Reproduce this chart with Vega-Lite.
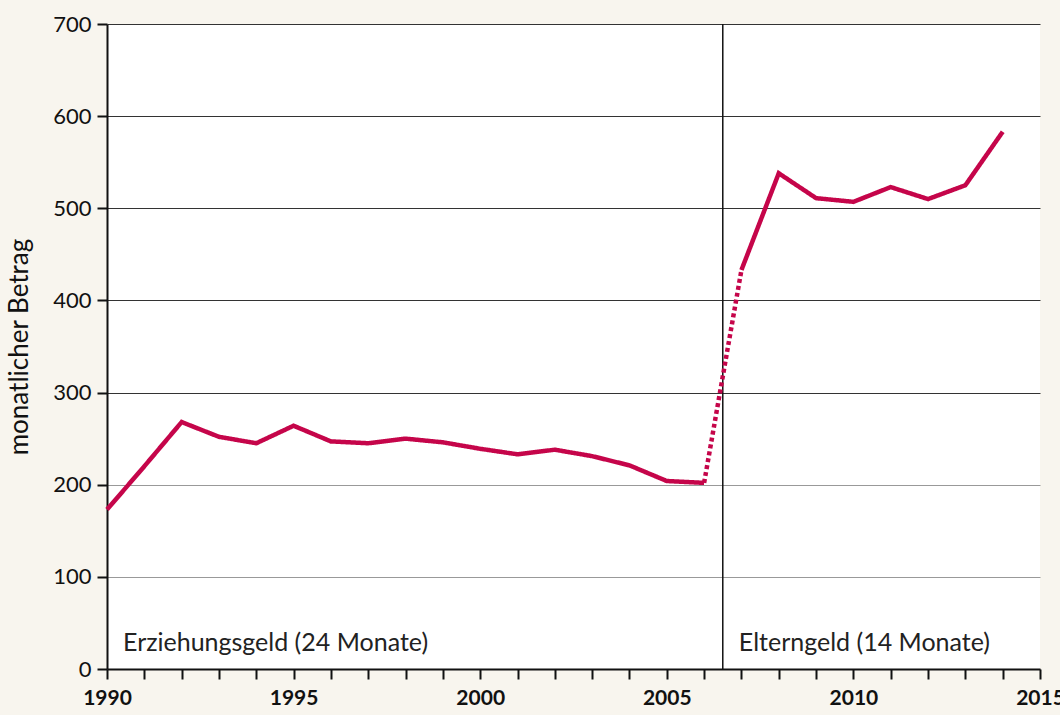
{
  "$schema": "https://vega.github.io/schema/vega-lite/v6.json",
  "width": 933,
  "height": 645,
  "autosize": {"type": "none"},
  "padding": {"left": 107, "top": 24, "right": 20, "bottom": 46},
  "background": "#f8f5ee",
  "config": {
    "view": {"fill": "white", "stroke": null},
    "font": "Lato",
    "axis": {"labelFont": "Lato", "titleFont": "Lato", "labelColor": "#111", "titleColor": "#111"}
  },
  "datasets": {
    "series": [
      {"year": 1990, "betrag": 173, "seg": "a"},
      {"year": 1991, "betrag": 220, "seg": "a"},
      {"year": 1992, "betrag": 268, "seg": "a"},
      {"year": 1993, "betrag": 252, "seg": "a"},
      {"year": 1994, "betrag": 245, "seg": "a"},
      {"year": 1995, "betrag": 264, "seg": "a"},
      {"year": 1996, "betrag": 247, "seg": "a"},
      {"year": 1997, "betrag": 245, "seg": "a"},
      {"year": 1998, "betrag": 250, "seg": "a"},
      {"year": 1999, "betrag": 246, "seg": "a"},
      {"year": 2000, "betrag": 239, "seg": "a"},
      {"year": 2001, "betrag": 233, "seg": "a"},
      {"year": 2002, "betrag": 238, "seg": "a"},
      {"year": 2003, "betrag": 231, "seg": "a"},
      {"year": 2004, "betrag": 221, "seg": "a"},
      {"year": 2005, "betrag": 204, "seg": "a"},
      {"year": 2006, "betrag": 202, "seg": "a"},
      {"year": 2006, "betrag": 202, "seg": "b"},
      {"year": 2007, "betrag": 433, "seg": "b"},
      {"year": 2007, "betrag": 433, "seg": "c"},
      {"year": 2008, "betrag": 538, "seg": "c"},
      {"year": 2009, "betrag": 511, "seg": "c"},
      {"year": 2010, "betrag": 507, "seg": "c"},
      {"year": 2011, "betrag": 523, "seg": "c"},
      {"year": 2012, "betrag": 510, "seg": "c"},
      {"year": 2013, "betrag": 525, "seg": "c"},
      {"year": 2014, "betrag": 583, "seg": "c"}
    ],
    "labels": [
      {"year": 1990.43, "betrag": 28, "text": "Erziehungsgeld (24 Monate)"},
      {"year": 2006.93, "betrag": 28, "text": "Elterngeld (14 Monate)"}
    ],
    "divider": [{"year": 2006.5}]
  },
  "layer": [
    {
      "data": {"name": "divider"},
      "mark": {"type": "rule", "color": "#111", "strokeWidth": 1.5},
      "encoding": {"x": {"field": "year", "type": "quantitative"}}
    },
    {
      "data": {"name": "series"},
      "mark": {"type": "line", "color": "#c5054a", "strokeWidth": 4.5},
      "encoding": {
        "x": {
          "field": "year",
          "type": "quantitative",
          "scale": {"domain": [1990, 2015], "nice": false, "zero": false},
          "axis": {
            "title": null,
            "values": [1990,1991,1992,1993,1994,1995,1996,1997,1998,1999,2000,2001,2002,2003,2004,2005,2006,2007,2008,2009,2010,2011,2012,2013,2014,2015],
            "tickCount": 40,
            "labelExpr": "datum.value % 5 === 0 ? datum.label : ''",
            "format": "d",
            "labelOverlap": false,
            "labelBound": false,
            "grid": false,
            "domainColor": "#111",
            "domainWidth": 2,
            "tickColor": "#111",
            "tickWidth": 2,
            "tickSize": 10,
            "labelFontSize": 21,
            "labelFontWeight": "bold",
            "labelPadding": 8,
            "labelFlush": false
          }
        },
        "y": {
          "field": "betrag",
          "type": "quantitative",
          "scale": {"domain": [0, 700], "nice": false},
          "axis": {
            "title": "monatlicher Betrag",
            "titleFontSize": 26,
            "titleFontWeight": "normal",
            "titlePadding": 20,
            "values": [0,100,200,300,400,500,600,700],
            "tickCount": 10,
            "labelOverlap": false,
            "grid": true,
            "gridColor": {"condition": {"test": "datum.value <= 200", "value": "#999"}, "value": "#333"},
            "gridWidth": 1,
            "domainColor": "#111",
            "domainWidth": 2,
            "tickColor": "#111",
            "tickWidth": 2,
            "tickSize": 10,
            "labelFontSize": 22,
            "labelPadding": 6
          }
        },
        "detail": {"field": "seg"},
        "strokeDash": {
          "field": "seg",
          "type": "nominal",
          "scale": {"domain": ["a", "b", "c"], "range": [[1, 0], [4, 3], [1, 0]]},
          "legend": null
        }
      }
    },
    {
      "data": {"name": "labels"},
      "mark": {"type": "text", "align": "left", "baseline": "middle", "fontSize": 25, "font": "Lato", "color": "#222"},
      "encoding": {
        "x": {"field": "year", "type": "quantitative"},
        "y": {"field": "betrag", "type": "quantitative"},
        "text": {"field": "text"}
      }
    }
  ]
}
